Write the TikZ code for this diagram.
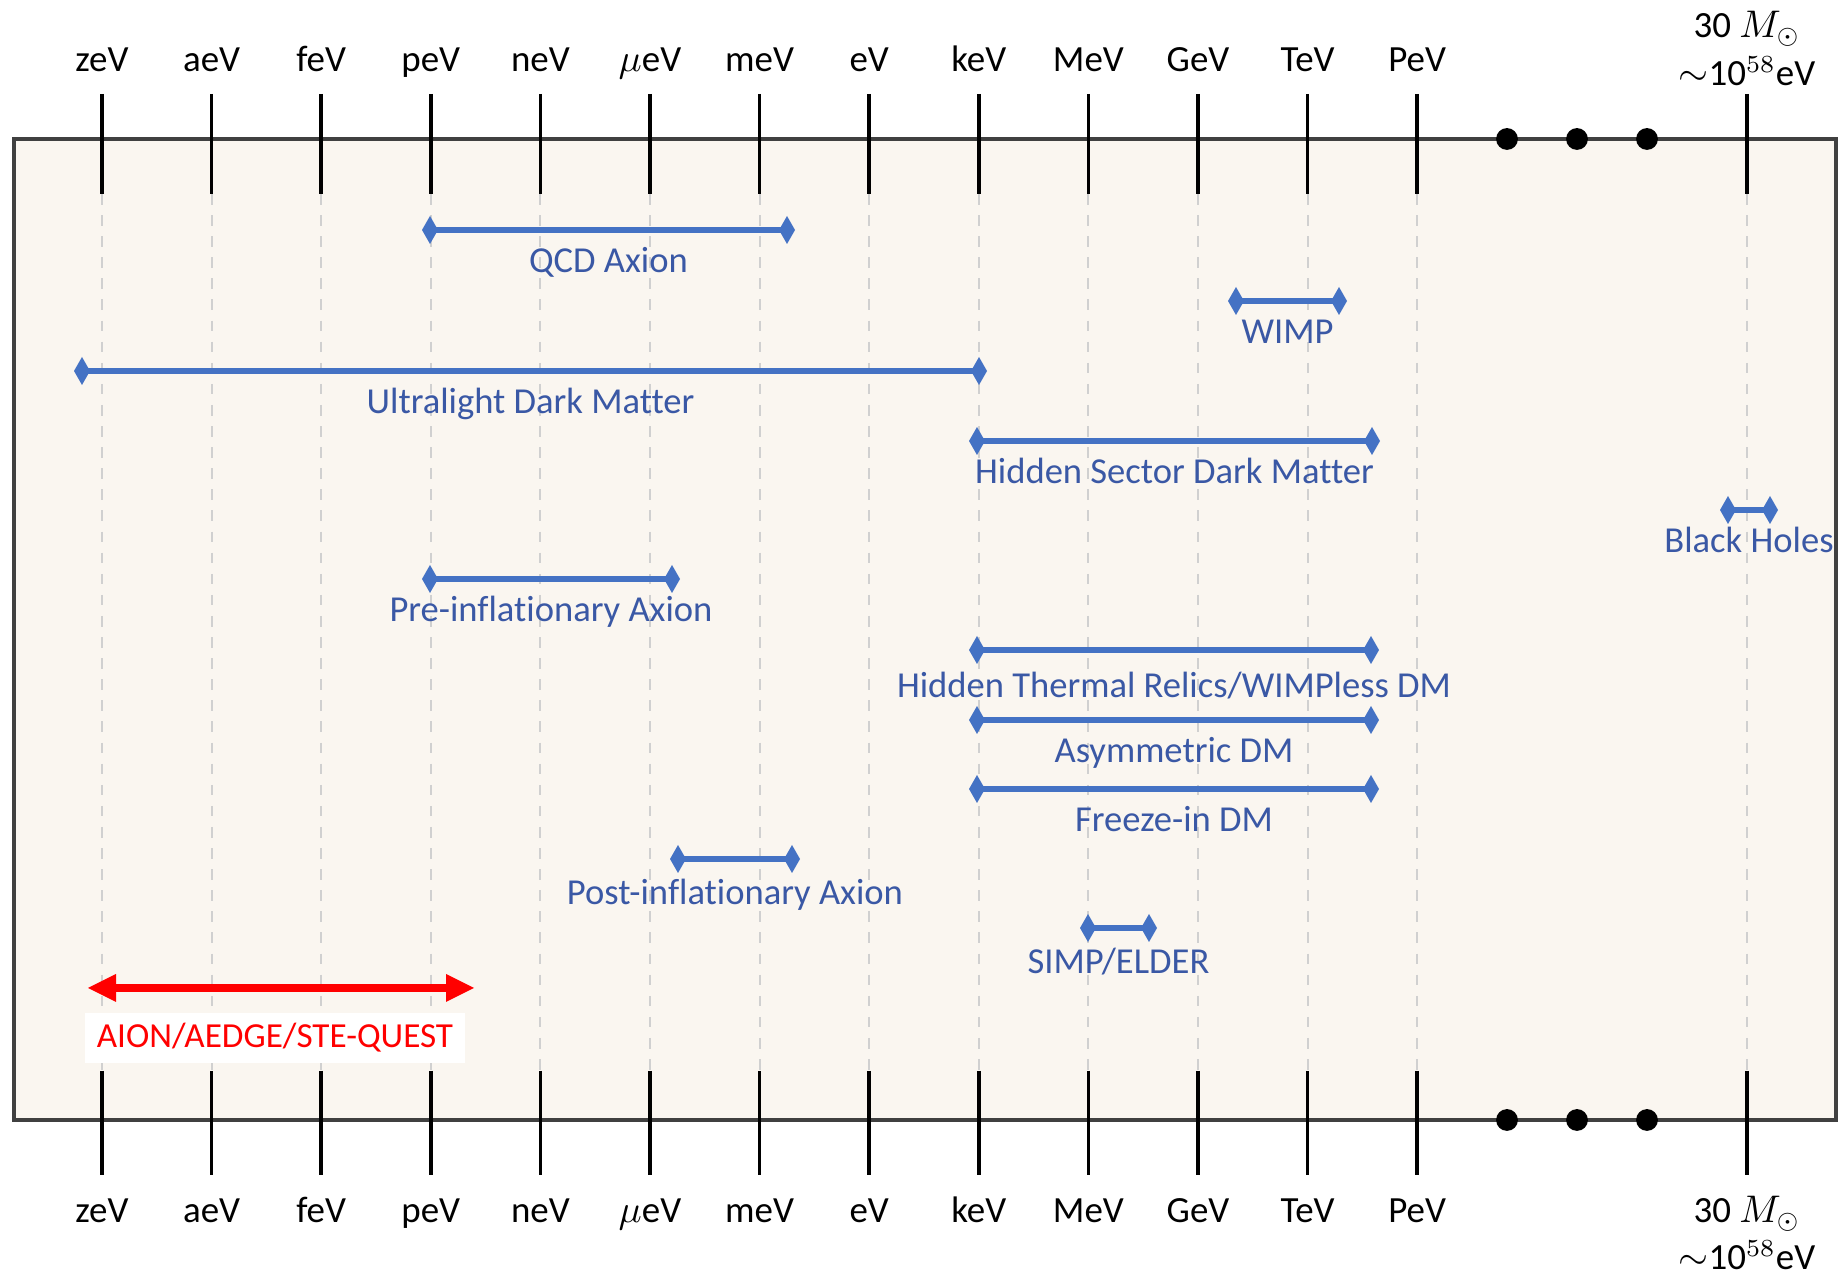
\documentclass[tikz,border=0pt]{standalone}
\usepackage{fontspec}
\setmainfont[Ligatures=NoCommon]{Carlito}
\usepackage{amsmath}
\usepackage{amssymb}
\definecolor{dmblue}{RGB}{68,114,196}
\definecolor{dmtext}{RGB}{58,88,165}
\definecolor{panelbg}{RGB}{250,246,240}
\definecolor{guidegray}{RGB}{208,208,208}

\begin{document}
\begin{tikzpicture}[x=0.01cm, y=0.01cm]
\tikzstyle{every node}+=[inner sep=0pt]
\tikzstyle{scalelab}=[font=\fontsize{10.5}{13.5}\selectfont, anchor=base]
\tikzstyle{scalemark}=[black, line width=1pt]
\tikzstyle{guide}=[guidegray, line width=0.6pt, dash pattern=on 3pt off 3pt]
\tikzstyle{dmbar}=[dmblue, line width=1.5pt]
\tikzstyle{dmlab}=[font=\fontsize{10.4}{12}\selectfont, text=dmtext, midway, anchor=base, yshift=-12pt]
\useasboundingbox (0,0) rectangle (1842,-1274);
\draw [black!75, fill=panelbg, line width=1.1pt] (14,-139) rectangle (1836,-1120);
% energy scale, top and bottom
\foreach \lab [count=\i from 0] in {zeV,aeV,feV,peV,neV,$\mu$eV,meV,eV,keV,MeV,GeV,TeV,PeV} {
  \pgfmathsetmacro{\x}{102+109.6*\i}
  \draw [guide] (\x,-194) -- (\x,-1071);
  \draw [scalemark] (\x,-94) -- (\x,-194);
  \draw [scalemark] (\x,-1071) -- (\x,-1175);
  \node [scalelab] (top\i) at (\x,-72) {\lab};
  \node [scalelab] (bot\i) at (\x,-1223) {\lab};
}
\draw [guide] (1747,-194) -- (1747,-1071);
\draw [scalemark] (1747,-94) -- (1747,-194);
\draw [scalemark] (1747,-1071) -- (1747,-1175);
\node [scalelab] (topsun) at (1747,-38) {30 $M_\odot$};
\node [scalelab] (topev) at (1747,-86) {$\sim$10$^{58}$eV};
\node [scalelab] (botsun) at (1747,-1223) {30 $M_\odot$};
\node [scalelab] (botev) at (1747,-1270) {$\sim$10$^{58}$eV};
\fill (1507,-139) circle (3.1pt);
\fill (1577,-139) circle (3.1pt);
\fill (1647,-139) circle (3.1pt);
\fill (1507,-1120) circle (3.1pt);
\fill (1577,-1120) circle (3.1pt);
\fill (1647,-1120) circle (3.1pt);
% dark matter candidates
\coordinate (qcdL) at (430,-230);
\coordinate (qcdR) at (787,-230);
\coordinate (wimpL) at (1236,-301);
\coordinate (wimpR) at (1339,-301);
\coordinate (uldmL) at (82,-371);
\coordinate (uldmR) at (979,-371);
\coordinate (hsdmL) at (977,-441);
\coordinate (hsdmR) at (1372,-441);
\coordinate (bhL) at (1728,-510);
\coordinate (bhR) at (1770,-510);
\coordinate (preL) at (430,-579);
\coordinate (preR) at (672,-579);
\coordinate (htrL) at (977,-650);
\coordinate (htrR) at (1371,-650);
\coordinate (asymL) at (977,-720);
\coordinate (asymR) at (1371,-720);
\coordinate (fiL) at (977,-789);
\coordinate (fiR) at (1371,-789);
\coordinate (postL) at (678,-859);
\coordinate (postR) at (792,-859);
\coordinate (simpL) at (1088,-928);
\coordinate (simpR) at (1149,-928);
\draw [dmbar] (qcdL) -- (qcdR) node [dmlab] (qcdlab) {QCD Axion};
\draw [dmbar] (wimpL) -- (wimpR) node [dmlab] (wimplab) {WIMP};
\draw [dmbar] (uldmL) -- (uldmR) node [dmlab] (uldmlab) {Ultralight Dark Matter};
\draw [dmbar] (hsdmL) -- (hsdmR) node [dmlab] (hsdmlab) {Hidden Sector Dark Matter};
\draw [dmbar] (bhL) -- (bhR) node [dmlab] (bhlab) {Black Holes};
\draw [dmbar] (preL) -- (preR) node [dmlab] (prelab) {Pre-inflationary Axion};
\draw [dmbar] (htrL) -- (htrR) node [dmlab, yshift=-1.5pt] (htrlab) {Hidden Thermal Relics/WIMPless DM};
\draw [dmbar] (asymL) -- (asymR) node [dmlab] (asymlab) {Asymmetric DM};
\draw [dmbar] (fiL) -- (fiR) node [dmlab] (filab) {Freeze-in DM};
\draw [dmbar] (postL) -- (postR) node [dmlab, yshift=-1pt] (postlab) {Post-inflationary Axion};
\draw [dmbar] (simpL) -- (simpR) node [dmlab, yshift=-1pt] (simplab) {SIMP/ELDER};
\foreach \c in {qcdL,qcdR,wimpL,wimpR,uldmL,uldmR,hsdmL,hsdmR,bhL,bhR,preL,preR,htrL,htrR,asymL,asymR,fiL,fiR,postL,postR,simpL,simpR}
  \fill [dmblue] (\c) +(-8,0) -- +(0,14) -- +(8,0) -- +(0,-14) -- cycle;
% atom interferometer reach
\coordinate (aionL) at (88,-988);
\coordinate (aionR) at (474,-988);
\draw [red, line width=2pt, shorten <=5pt, shorten >=5pt] (aionL) -- (aionR);
\fill [red] (aionL) -- +(28,14) -- +(28,-14) -- cycle;
\fill [red] (aionR) -- +(-28,14) -- +(-28,-14) -- cycle;
\node [fill=white, minimum width=3.8cm, minimum height=0.5cm, text=red, font=\fontsize{10}{12}\selectfont] (aionlab) at (275,-1038) {AION/AEDGE/STE-QUEST};
\end{tikzpicture}
\end{document}
